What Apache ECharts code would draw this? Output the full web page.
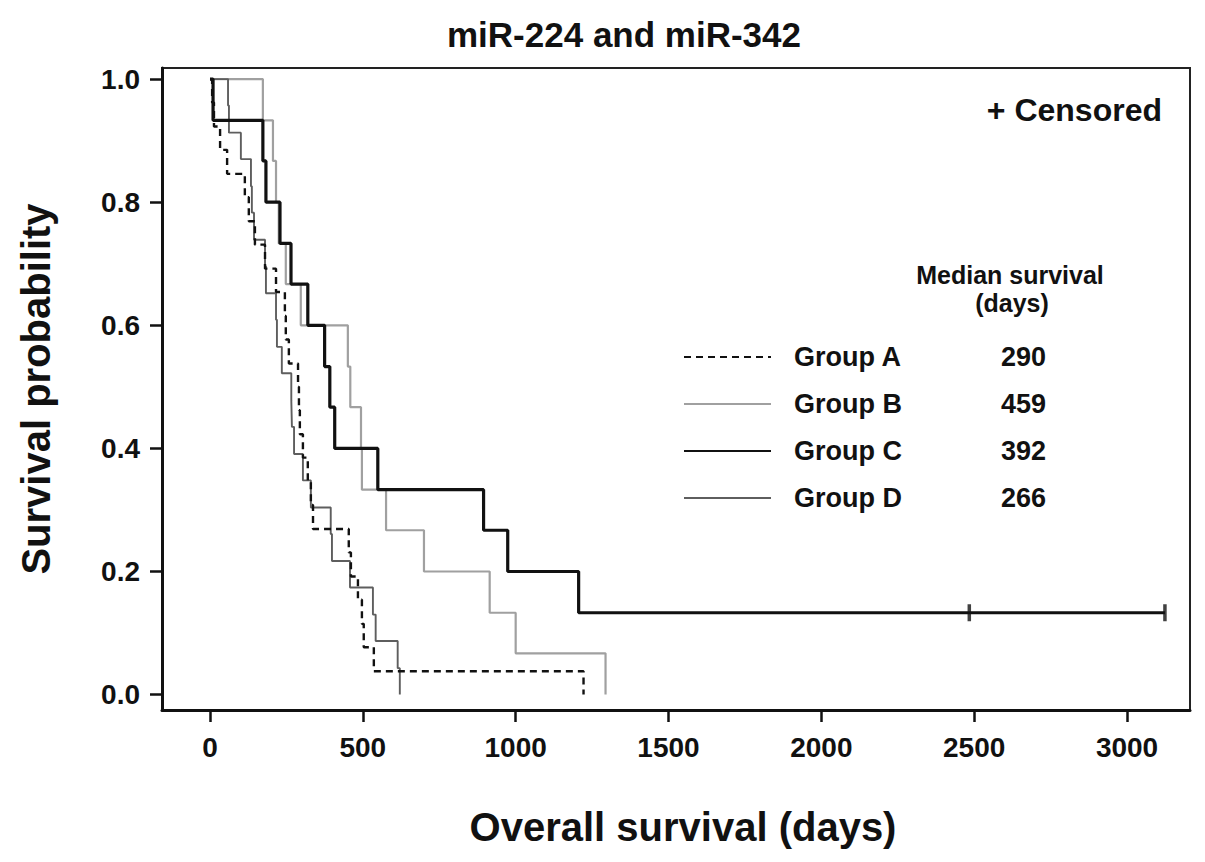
<!DOCTYPE html>
<html><head><meta charset="utf-8">
<script src="https://cdn.jsdelivr.net/npm/echarts@6/dist/echarts.min.js"></script>
<style>html,body{margin:0;padding:0;background:#fff}#chart{width:1205px;height:862px}</style>
</head><body><div id="chart"></div>
<script>
const xTicks = [0, 500, 1000, 1500, 2000, 2500, 3000];
const yTicks = [0, 0.2, 0.4, 0.6, 0.8, 1.0];
const groupNames = ['Group A', 'Group B', 'Group C', 'Group D'];
const medianDays = [290, 459, 392, 266];

const groupADays = [0, 7, 13, 33, 56, 114, 127, 147, 180, 216, 245, 248, 258, 288, 291, 294, 304, 320, 330, 337, 454, 461, 484, 497, 503, 536, 1222];
const groupASurv = [1, 0.962, 0.923, 0.885, 0.846, 0.808, 0.769, 0.731, 0.692, 0.654, 0.615, 0.577, 0.538, 0.5, 0.462, 0.423, 0.385, 0.346, 0.308, 0.269, 0.231, 0.192, 0.154, 0.115, 0.077, 0.038, 0];

const groupBDays = [0, 173, 206, 216, 225, 248, 297, 451, 459, 494, 497, 576, 700, 915, 1000, 1294];
const groupBSurv = [1, 0.933, 0.867, 0.8, 0.733, 0.667, 0.6, 0.533, 0.467, 0.4, 0.333, 0.267, 0.2, 0.133, 0.067, 0];

const groupCDays = [0, 10, 173, 183, 229, 265, 320, 375, 392, 408, 549, 895, 974, 1206, 3124];
const groupCSurv = [1, 0.933, 0.867, 0.8, 0.733, 0.667, 0.6, 0.533, 0.467, 0.4, 0.333, 0.267, 0.2, 0.133, 0.133];

const groupDDays = [0, 59, 62, 101, 134, 137, 144, 180, 183, 216, 219, 235, 266, 268, 275, 304, 330, 395, 399, 458, 533, 542, 614, 621];
const groupDSurv = [1, 0.957, 0.913, 0.870, 0.826, 0.783, 0.739, 0.696, 0.652, 0.609, 0.565, 0.522, 0.478, 0.435, 0.391, 0.348, 0.304, 0.261, 0.217, 0.174, 0.130, 0.087, 0.043, 0];

const censorDays = [2484, 3124];
const censorSurv = [0.133, 0.133];

const zip = (a, b) => a.map((v, i) => [v, b[i]]);
const FONT = '"Liberation Sans", Arial, Helvetica, sans-serif';
const INK = '#111';

const chart = echarts.init(document.getElementById('chart'), null, {renderer: 'svg'});
chart.setOption({
  animation: false,
  backgroundColor: '#fff',
  textStyle: {fontFamily: FONT, color: INK},
  title: {
    text: 'miR-224 and miR-342',
    left: 619, top: 12, textAlign: 'center',
    textStyle: {fontFamily: FONT, fontSize: 35, fontWeight: 'bold', color: INK}
  },
  grid: {left: 162, right: 15, top: 68, bottom: 152, show: true, borderColor: '#222', borderWidth: 2, containLabel: false},
  xAxis: {
    type: 'value', min: -157, max: 3206,
    axisLine: {show: true, onZero: false, lineStyle: {color: INK, width: 3}},
    axisTick: {show: true, customValues: xTicks, length: 12, lineStyle: {color: INK, width: 2.5}},
    axisLabel: {customValues: xTicks, fontSize: 28, fontWeight: 'bold', color: INK, margin: 23, fontFamily: FONT,
      formatter: v => String(v)},
    splitLine: {show: false},
    name: 'Overall survival (days)', nameLocation: 'middle', nameGap: 97,
    nameTextStyle: {fontSize: 40, fontWeight: 'bold', color: INK, fontFamily: FONT, padding: [0, 0, 0, 14]}
  },
  yAxis: {
    type: 'value', min: -0.025, max: 1.018,
    axisLine: {show: true, onZero: false, lineStyle: {color: INK, width: 3}},
    axisTick: {show: true, customValues: yTicks, length: 12, lineStyle: {color: INK, width: 2.5}},
    axisLabel: {customValues: yTicks, fontSize: 28, fontWeight: 'bold', color: INK, margin: 22, fontFamily: FONT,
      formatter: v => Number(v).toFixed(1)},
    splitLine: {show: false},
    name: 'Survival probability', nameLocation: 'middle', nameGap: 106, nameRotate: 90,
    nameTextStyle: {fontSize: 40, fontWeight: 'bold', color: INK, fontFamily: FONT}
  },
  legend: {
    data: groupNames,
    orient: 'vertical', left: 683, top: 342, padding: 0,
    itemWidth: 87, itemHeight: 14, itemGap: 17,
    selectedMode: false,
    itemStyle: {opacity: 0},
    textStyle: {
      fontSize: 27, fontWeight: 'bold', color: INK, fontFamily: FONT, lineHeight: 30,
      rich: {
        n: {fontSize: 27, fontWeight: 'bold', color: INK, fontFamily: FONT, width: 207, padding: [0, 0, 0, 18]},
        v: {fontSize: 27, fontWeight: 'bold', color: INK, fontFamily: FONT}
      }
    },
    formatter: name => `{n|${name}}{v|${medianDays[groupNames.indexOf(name)]}}`
  },
  graphic: [
    {type: 'text', x: 1162, y: 110, style: {text: '+ Censored', textAlign: 'right', textVerticalAlign: 'middle',
      font: `bold 32px ${FONT}`, fill: INK}},
    {type: 'text', x: 1010, y: 275, style: {text: 'Median survival', textAlign: 'center', textVerticalAlign: 'middle',
      font: `bold 25px ${FONT}`, fill: INK}},
    {type: 'text', x: 1012, y: 303, style: {text: '(days)', textAlign: 'center', textVerticalAlign: 'middle',
      font: `bold 25px ${FONT}`, fill: INK}}
  ],
  series: [
    {name: 'Group B', type: 'line', step: 'end', symbol: 'none', data: zip(groupBDays, groupBSurv),
      color: '#a0a0a0', lineStyle: {color: '#a0a0a0', width: 2.2}, z: 2},
    {name: 'Group D', type: 'line', step: 'end', symbol: 'none', data: zip(groupDDays, groupDSurv),
      color: '#5e5e5e', lineStyle: {color: '#5e5e5e', width: 1.9}, z: 3},
    {name: 'Group A', type: 'line', step: 'end', symbol: 'none', data: zip(groupADays, groupASurv),
      color: INK, lineStyle: {color: INK, width: 2.4, type: [7, 5]}, z: 4},
    {name: 'Group C', type: 'line', step: 'end', symbol: 'none', data: zip(groupCDays, groupCSurv),
      color: INK, lineStyle: {color: INK, width: 3.2}, z: 5},
    {name: 'Censored', type: 'scatter', data: zip(censorDays, censorSurv), symbol: 'rect', symbolSize: [3.5, 17],
      itemStyle: {color: INK}, z: 6}
  ]
});
</script>
</body></html>
